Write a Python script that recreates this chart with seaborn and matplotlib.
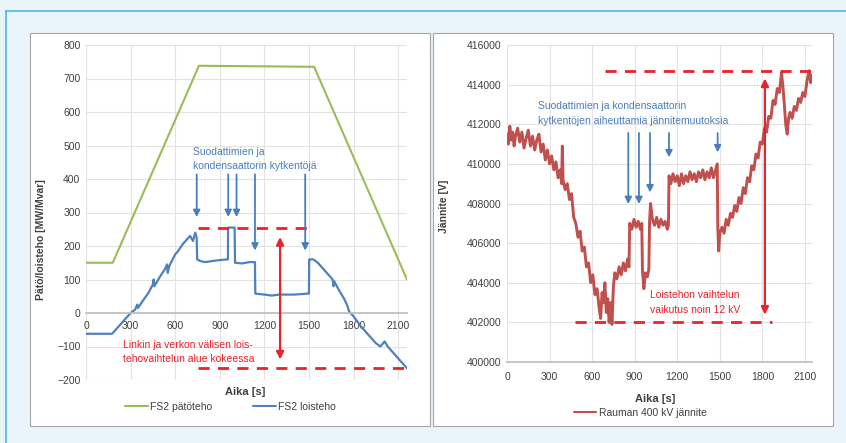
import numpy as np
import pandas as pd
import matplotlib
matplotlib.use('Agg')
import matplotlib.pyplot as plt
from matplotlib.patches import Rectangle
from matplotlib.lines import Line2D
import seaborn as sns

# -- Vasen kuva: FS2 pätö- ja loisteho --
PATO_T = [0, 180, 760, 1535, 2160]
PATO_P = [150, 150, 738, 735, 100]

LOIS_T = [0, 175, 200, 240, 280, 300, 330, 345, 350, 380, 420, 450, 455, 460, 500,
          530, 545, 550, 560, 600, 620, 650, 680, 700, 720, 735, 745, 748, 770, 800,
          850, 900, 955, 956, 1000, 1003, 1050, 1100, 1137, 1139, 1200, 1250, 1300,
          1400, 1500, 1502, 1530, 1560, 1600, 1640, 1660, 1665, 1670, 1700, 1740,
          1760, 1770, 1800, 1850, 1900, 1950, 1980, 2000, 2010, 2030, 2070, 2110, 2160]
LOIS_Q = [-62, -62, -50, -30, -10, 0, 10, 25, 15, 35, 60, 85, 100, 80, 110,
          130, 145, 120, 140, 175, 185, 205, 220, 230, 215, 240, 225, 160, 155, 152,
          155, 158, 160, 255, 255, 150, 148, 152, 152, 58, 55, 52, 55,
          55, 58, 160, 160, 150, 130, 110, 100, 80, 95, 70, 40,
          20, 5, -10, -40, -65, -90, -100, -90, -85, -100, -120, -140, -165]

# -- Oikea kuva: Rauman 400 kV jännite --
JANN_T = [0, 10, 20, 30, 40, 50, 60, 75, 90, 105, 120, 135, 150, 165, 180, 195, 210,
          225, 240, 255, 270, 285, 300, 315, 330, 345, 360, 375, 385, 390, 395, 410,
          425, 440, 455, 470, 485, 500, 515, 530, 545, 560, 575, 590, 605, 620, 635,
          650, 660, 670, 680, 690, 700, 710, 720, 730, 740, 750, 760, 775, 790, 805,
          820, 835, 850, 860, 865, 880, 895, 910, 925, 940, 950, 955, 965, 975, 990,
          1000, 1005, 1012, 1025, 1040, 1055, 1070, 1085, 1100, 1115, 1130, 1138,
          1142, 1155, 1170, 1185, 1200, 1215, 1230, 1245, 1260, 1275, 1290, 1305,
          1320, 1335, 1350, 1365, 1380, 1395, 1410, 1425, 1440, 1455, 1470, 1482,
          1486, 1492, 1500, 1515, 1530, 1545, 1560, 1575, 1590, 1605, 1620, 1635,
          1650, 1665, 1680, 1695, 1710, 1725, 1740, 1755, 1770, 1785, 1800, 1815,
          1830, 1845, 1860, 1875, 1890, 1905, 1920, 1935, 1945, 1955, 1965, 1975,
          1985, 1995, 2010, 2025, 2040, 2055, 2070, 2085, 2100, 2115, 2130, 2140, 2150]
JANN_V = [411500, 411000, 411900, 411200, 411600, 410900, 411400, 411800, 411100,
          411600, 410800, 411300, 411700, 410900, 411400, 410700, 411200, 411500,
          410600, 411000, 410200, 410700, 410000, 410400, 409700, 410100, 409300,
          409700, 409000, 410900, 409200, 408700, 409000, 408200, 408500, 407300,
          407000, 406300, 406600, 405600, 405800, 404800, 405000, 404000, 404400,
          403400, 403700, 402700, 402200, 403500, 403000, 404000, 402500, 403200,
          402000, 403000, 401900, 403800, 404500, 404200, 404800, 404400, 405000,
          404600, 405200, 404800, 407000, 406700, 407200, 406800, 407100, 406700,
          407000, 404600, 403700, 404500, 404300, 404700, 407100, 408000, 407200,
          406900, 407300, 406800, 407200, 406900, 407100, 406700, 406900, 409400,
          409000, 409500, 409100, 409400, 408900, 409500, 409000, 409400, 409100,
          409600, 409200, 409500, 409100, 409600, 409300, 409700, 409200, 409600,
          409300, 409800, 409300, 409700, 410000, 406800, 405600, 406500, 406800,
          406500, 407200, 406900, 407500, 407300, 407900, 407600, 408300, 408000,
          408800, 408500, 409300, 409100, 409900, 409700, 410500, 410300, 411100,
          411000, 411800, 411600, 412400, 412300, 413200, 413000, 413800, 413600,
          414600, 413900, 413000, 412000, 411500, 412300, 412600, 412300, 412900,
          412700, 413300, 413100, 413600, 413400, 414200, 414700, 414100, 414500]

XTICKS = [0, 300, 600, 900, 1200, 1500, 1800, 2100]

GREEN = '#9bbb59'
BLUE = '#4f81bd'
VRED = '#c0504d'
ARED = '#e8232a'
ABLUE = '#4a7ebb'
BG = '#eaf4fb'

sns.set_theme(style="whitegrid")
plt.rcParams['font.family'] = ['Liberation Sans', 'DejaVu Sans']

fig = plt.figure(figsize=(8.46, 4.43), dpi=100)
fig.patch.set_facecolor(BG)

# kehys ja valkoiset paneelit
fig.add_artist(Line2D([6 / 846, 1], [1 - 11 / 443, 1 - 11 / 443], color='#4db8e8', lw=1.2))
fig.add_artist(Line2D([6 / 846, 6 / 846], [0, 1 - 11 / 443], color='#4db8e8', lw=1.2))
for x0, x1 in [(30, 430), (433, 833)]:
    fig.add_artist(Rectangle((x0 / 846, 1 - 426 / 443), (x1 - x0) / 846, 393 / 443,
                             transform=fig.transFigure, facecolor='white',
                             edgecolor='#a6a6a6', lw=0.8, zorder=0))

df_p = pd.DataFrame({'Aika': PATO_T, 'Teho': PATO_P})
df_q = pd.DataFrame({'Aika': LOIS_T, 'Teho': LOIS_Q})
df_v = pd.DataFrame({'Aika': JANN_T, 'Jannite': JANN_V})

# ==========================================
# VASEN
# ==========================================
ax1 = fig.add_axes([86 / 846, 1 - 380 / 443, 321 / 846, 335 / 443])
sns.lineplot(data=df_p, x='Aika', y='Teho', ax=ax1, color=GREEN, lw=1.5,
             estimator=None, sort=False)
sns.lineplot(data=df_q, x='Aika', y='Teho', ax=ax1, color=BLUE, lw=1.6,
             estimator=None, sort=False)
ax1.set_xlim(0, 2160)
ax1.set_ylim(-200, 800)
ax1.set_yticks(range(-200, 801, 100))
ax1.set_xticks(XTICKS)
ax1.spines['bottom'].set_position(('data', 0))
for s in ['top', 'right', 'left']:
    ax1.spines[s].set_visible(False)
ax1.spines['bottom'].set_color('#bfbfbf')

# kommentit
ax1.text(722, 481, 'Suodattimien ja', color=ABLUE, fontsize=7.5, va='center')
ax1.text(722, 440, 'kondensaattorin kytkentöjä', color=ABLUE, fontsize=7.5, va='center')
for x, y1 in [(745, 278), (957, 278), (1013, 278), (1137, 178), (1475, 178)]:
    ax1.annotate('', xy=(x, y1), xytext=(x, 422),
                 arrowprops=dict(arrowstyle='-|>', color=ABLUE, lw=1.3, mutation_scale=10))
ax1.plot([756, 1530], [255, 255], color=ARED, lw=2, ls=(0, (4, 3)))
ax1.plot([756, 2160], [-165, -165], color=ARED, lw=2, ls=(0, (4, 3)))
ax1.annotate('', xy=(1306, 235), xytext=(1306, -147),
             arrowprops=dict(arrowstyle='<|-|>', color=ARED, lw=1.6, mutation_scale=11))
ax1.text(250, -96, 'Linkin ja verkon välisen lois-', color=ARED, fontsize=7.5, va='center')
ax1.text(250, -138, 'tehovaihtelun alue kokeessa', color=ARED, fontsize=7.5, va='center')

ax1.set_xlabel('Aika [s]', fontsize=8, fontweight='bold', color='#404040')
ax1.xaxis.set_label_coords(0.495, -0.02)
ax1.set_ylabel('Pätö/loisteho [MW/Mvar]', fontsize=7.5, fontweight='bold', color='#404040')
ax1.yaxis.set_label_coords(-0.125, 0.42)
ax1.legend(handles=[Line2D([], [], color=GREEN, lw=1.5), Line2D([], [], color=BLUE, lw=1.5)],
           labels=['FS2 pätöteho', 'FS2 loisteho'], loc='center', bbox_to_anchor=(0.45, -0.08),
           ncol=2, frameon=False, fontsize=7.5, handlelength=2.2, columnspacing=4,
           handletextpad=0.2, labelcolor='#404040')

# ==========================================
# OIKEA
# ==========================================
ax2 = fig.add_axes([507 / 846, 1 - 362 / 443, 305 / 846, 317 / 443])
sns.lineplot(data=df_v, x='Aika', y='Jannite', ax=ax2, color=VRED, lw=2.1,
             estimator=None, sort=False)
ax2.set_xlim(0, 2150)
ax2.set_ylim(400000, 416000)
ax2.set_yticks(range(400000, 416001, 2000))
ax2.set_xticks(XTICKS)
for s in ['top', 'right', 'left']:
    ax2.spines[s].set_visible(False)
ax2.spines['bottom'].set_color('#bfbfbf')

ax2.text(218, 412920, 'Suodattimien ja kondensaattorin', color=ABLUE, fontsize=7.5, va='center')
ax2.text(218, 412180, 'kytkentöjen aiheuttamia jännitemuutoksia', color=ABLUE, fontsize=7.5,
         va='center')
for x, y1 in [(855, 407830), (930, 407830), (1008, 408420), (1142, 410190), (1485, 410440)]:
    ax2.annotate('', xy=(x, y1), xytext=(x, 411700),
                 arrowprops=dict(arrowstyle='-|>', color=ABLUE, lw=1.3, mutation_scale=10))
ax2.plot([690, 2147], [414700, 414700], color=ARED, lw=2, ls=(0, (4, 3)))
ax2.plot([479, 1865], [402030, 402030], color=ARED, lw=2, ls=(0, (4, 3)))
ax2.annotate('', xy=(1818, 414450), xytext=(1818, 402250),
             arrowprops=dict(arrowstyle='<|-|>', color=ARED, lw=1.6, mutation_scale=11))
ax2.text(1010, 403370, 'Loistehon vaihtelun', color=ARED, fontsize=7.5, va='center')
ax2.text(1010, 402620, 'vaikutus noin 12 kV', color=ARED, fontsize=7.5, va='center')

ax2.set_xlabel('Aika [s]', fontsize=8, fontweight='bold', color='#404040')
ax2.xaxis.set_label_coords(0.485, -0.10)
ax2.set_ylabel('Jännite [V]', fontsize=7.5, fontweight='bold', color='#404040')
ax2.yaxis.set_label_coords(-0.19, 0.49)
ax2.legend(handles=[Line2D([], [], color=VRED, lw=1.5)], labels=['Rauman 400 kV jännite'],
           loc='center', bbox_to_anchor=(0.436, -0.161), frameon=False, fontsize=7.5,
           handlelength=2.2, handletextpad=0.2, labelcolor='#404040')

for ax in (ax1, ax2):
    ax.set_facecolor('white')
    ax.grid(True, color='#e3e3e3', lw=0.8)
    ax.tick_params(axis='both', labelsize=7.5, colors='#404040', length=0, pad=4)
ax1.tick_params(axis='x', pad=6)
ax2.tick_params(axis='x', pad=7)

fig.savefig('out.png', dpi=100, facecolor=fig.get_facecolor())
